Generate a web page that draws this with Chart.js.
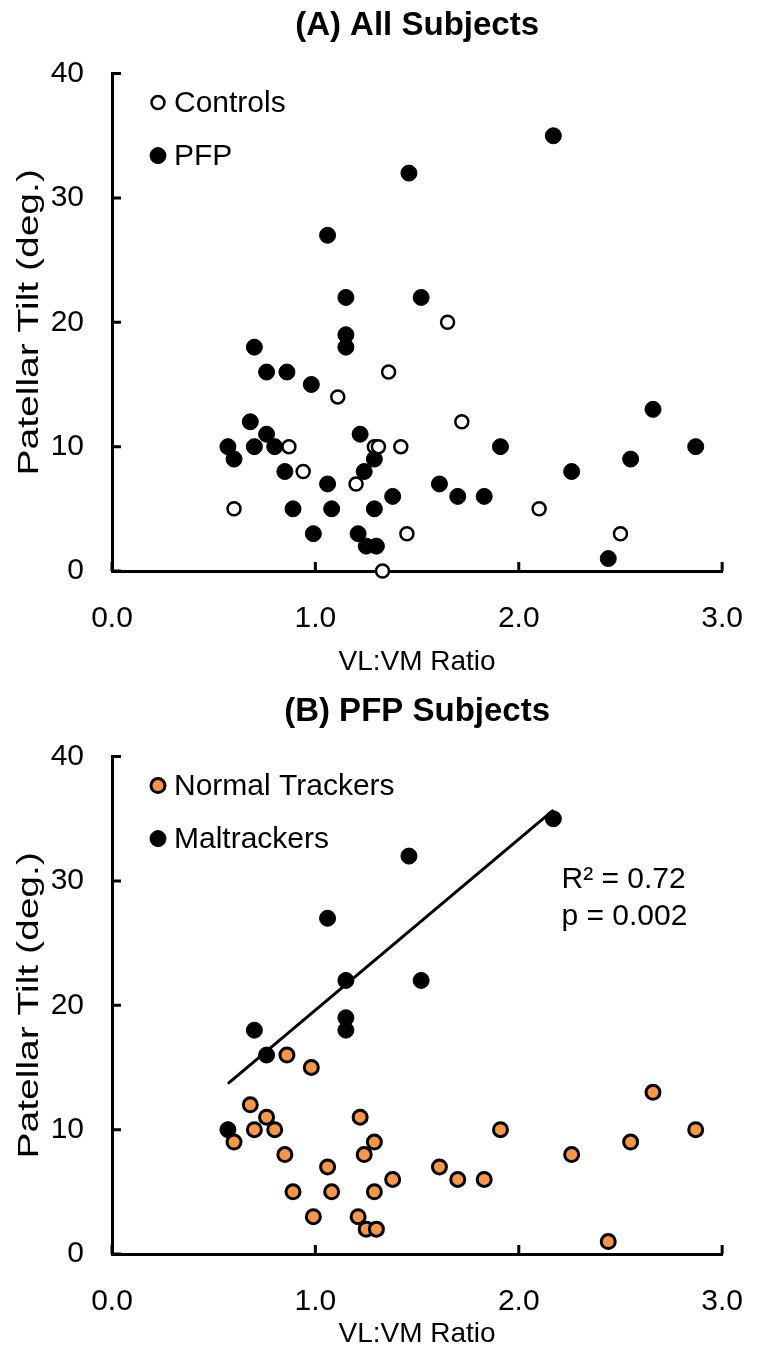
<!DOCTYPE html>
<html>
<head>
<meta charset="utf-8">
<title>Patellar tilt vs VL:VM ratio</title>
<script src="https://cdn.jsdelivr.net/npm/chart.js@4.4.0/dist/chart.umd.min.js"></script>
<style>
  html, body { margin: 0; padding: 0; background: #fff; overflow: hidden; }
  #wrap { position: relative; width: 773px; height: 1357px; }
  canvas { position: absolute; left: 0; }
</style>
</head>
<body>
<div id="wrap">
  <canvas id="chartA" width="773" height="685" style="top:0px"></canvas>
  <canvas id="chartB" width="773" height="672" style="top:685px"></canvas>
</div>
<script>
// values: x = VL:VM ratio, y = patellar tilt (deg.)
const controlsX = [0.60, 0.87, 0.94, 1.11, 1.20, 1.29, 1.31, 1.33, 1.36, 1.42, 1.45, 1.65, 1.72, 2.10, 2.50];
const controlsY = [5, 10, 8, 14, 7, 10, 10, 0, 16, 10, 3, 20, 12, 5, 3];

const pfpX = [0.57, 0.60, 0.68, 0.70, 0.70, 0.76, 0.76, 0.80, 0.85, 0.86, 0.89, 0.98, 0.99,
  1.06, 1.06, 1.08, 1.15, 1.15, 1.15, 1.21, 1.22, 1.24, 1.25, 1.29, 1.29, 1.30, 1.38,
  1.46, 1.52, 1.61, 1.70, 1.83, 1.91, 2.17, 2.26, 2.44, 2.55, 2.66, 2.87];
const pfpY = [10, 9, 12, 18, 10, 16, 11, 10, 8, 16, 5, 15, 3,
  27, 7, 5, 22, 19, 18, 3, 11, 8, 2, 9, 5, 2, 6,
  32, 22, 7, 6, 6, 10, 35, 8, 1, 9, 13, 10];

// panel B: PFP split into normal trackers and maltrackers
const normalX = [0.60, 0.68, 0.70, 0.76, 0.80, 0.85, 0.86, 0.89, 0.98, 0.99, 1.06, 1.08, 1.21,
  1.22, 1.24, 1.25, 1.29, 1.29, 1.30, 1.38, 1.61, 1.70, 1.83, 1.91, 2.26, 2.44, 2.55, 2.66, 2.87];
const normalY = [9, 12, 10, 11, 10, 8, 16, 5, 15, 3, 7, 5, 3,
  11, 8, 2, 9, 5, 2, 6, 7, 6, 6, 10, 8, 1, 9, 13, 10];
const maltrackX = [0.57, 0.70, 0.76, 1.06, 1.15, 1.15, 1.15, 1.46, 1.52, 2.17];
const maltrackY = [10, 18, 16, 27, 22, 19, 18, 32, 22, 35];

// regression line through the maltrackers (ends as drawn)
const fitX = [0.57, 2.17];
const fitY = [13.7, 35.7];
const fitNote = ['R\u00b2 = 0.72', 'p = 0.002'];

const xTicks = [0, 1, 2, 3];
const yTicks = [0, 10, 20, 30, 40];

const FONT = '"Liberation Sans", Arial, sans-serif';
Chart.defaults.font.family = FONT;
Chart.defaults.color = '#000';

const pts = (xs, ys) => xs.map((x, i) => ({ x: x, y: ys[i] }));

// excel style ticks that point into the plot
const inwardTicks = {
  id: 'inwardTicks',
  beforeDatasetsDraw(chart) {
    const { ctx, chartArea, scales } = chart;
    ctx.save();
    ctx.strokeStyle = '#000';
    ctx.lineWidth = 3;
    ctx.beginPath();
    scales.x.ticks.forEach(t => {
      const px = scales.x.getPixelForValue(t.value);
      ctx.moveTo(px, chartArea.bottom);
      ctx.lineTo(px, chartArea.bottom - 9);
    });
    scales.y.ticks.forEach(t => {
      const py = scales.y.getPixelForValue(t.value);
      ctx.moveTo(chartArea.left, py);
      ctx.lineTo(chartArea.left + 9, py);
    });
    ctx.stroke();
    ctx.restore();
  }
};

// legend sitting inside the top-left corner of the plot
const cornerLegend = {
  id: 'cornerLegend',
  afterDraw(chart, args, opts) {
    const { ctx, chartArea } = chart;
    ctx.save();
    ctx.font = '30px ' + FONT;
    ctx.textBaseline = 'middle';
    ctx.textAlign = 'left';
    let row = 0;
    chart.data.datasets.forEach(ds => {
      if (ds.noLegend) return;
      const cx = chartArea.left + opts.x;
      const cy = chartArea.top + opts.y + row * opts.gap;
      ctx.beginPath();
      ctx.arc(cx, cy, ds.pointRadius, 0, Math.PI * 2);
      ctx.fillStyle = ds.backgroundColor;
      ctx.fill();
      ctx.lineWidth = ds.borderWidth;
      ctx.strokeStyle = ds.borderColor;
      ctx.stroke();
      ctx.fillStyle = '#000';
      ctx.fillText(ds.label, cx + 16, cy + 1);
      row++;
    });
    ctx.restore();
  }
};

// the y axis title is stretched along its length in the original
const sideTitle = {
  id: 'sideTitle',
  afterDraw(chart, args, opts) {
    const { ctx, chartArea } = chart;
    ctx.save();
    ctx.translate(opts.x, (chartArea.top + chartArea.bottom) / 2);
    ctx.rotate(-Math.PI / 2);
    ctx.scale(opts.stretch, 1);
    ctx.font = '30px ' + FONT;
    ctx.textAlign = 'center';
    ctx.textBaseline = 'middle';
    ctx.fillStyle = '#000';
    ctx.fillText(opts.text, 0, 0);
    ctx.restore();
  }
};

// R2 / p text, placed at a data position
const noteText = {
  id: 'noteText',
  afterDraw(chart, args, opts) {
    if (!opts.lines) return;
    const { ctx, scales } = chart;
    ctx.save();
    ctx.font = '30px ' + FONT;
    ctx.textBaseline = 'middle';
    ctx.fillStyle = '#000';
    opts.lines.forEach((line, i) => {
      ctx.fillText(line, scales.x.getPixelForValue(opts.x), scales.y.getPixelForValue(opts.y[i]));
    });
    ctx.restore();
  }
};

function makeChart(id, title, titlePad, xHeight, datasets, note) {
  return new Chart(document.getElementById(id), {
    type: 'scatter',
    data: { datasets: datasets },
    plugins: [inwardTicks, cornerLegend, sideTitle, noteText],
    options: {
      responsive: false,
      animation: false,
      events: [],
      layout: { padding: { left: 0, right: 23, top: 0, bottom: 0 } },
      plugins: {
        legend: { display: false },
        tooltip: { enabled: false },
        title: {
          display: true,
          fullSize: false,
          text: title,
          font: { size: 33, weight: 'bold' },
          padding: titlePad
        },
        cornerLegend: { x: 46, y: 29, gap: 53 },
        sideTitle: { text: 'Patellar Tilt (deg.)', x: 30, stretch: 1.3 },
        noteText: note || {}
      },
      scales: {
        x: {
          type: 'linear',
          min: 0, max: 3,
          afterBuildTicks: s => { s.ticks = xTicks.map(v => ({ value: v })); },
          afterFit: s => { s.height = xHeight; },
          border: { color: '#000', width: 3 },
          grid: { drawOnChartArea: false, drawTicks: false },
          ticks: { font: { size: 30 }, padding: 30, callback: v => v.toFixed(1) },
          title: { display: true, text: 'VL:VM Ratio', font: { size: 28 }, padding: { top: 0, bottom: 6 } }
        },
        y: {
          type: 'linear',
          min: 0, max: 40,
          afterBuildTicks: s => { s.ticks = yTicks.map(v => ({ value: v })); },
          afterFit: s => { s.width = 112; },
          border: { color: '#000', width: 3 },
          grid: { drawOnChartArea: false, drawTicks: false },
          ticks: { font: { size: 30 }, padding: 28 }
        }
      }
    }
  });
}

makeChart('chartA', '(A) All Subjects', { top: 6, bottom: 28 }, 114, [
  { label: 'Controls', data: pts(controlsX, controlsY), pointRadius: 6.5, borderWidth: 2.5,
    backgroundColor: '#fff', borderColor: '#000', clip: false },
  { label: 'PFP', data: pts(pfpX, pfpY), pointRadius: 8, borderWidth: 1,
    backgroundColor: '#000', borderColor: '#000', clip: false }
]);

makeChart('chartB', '(B) PFP Subjects', { top: 7, bottom: 25 }, 103, [
  { label: 'Normal Trackers', data: pts(normalX, normalY), pointRadius: 7, borderWidth: 3,
    backgroundColor: '#F79646', borderColor: '#000', clip: false },
  { label: 'Maltrackers', data: pts(maltrackX, maltrackY), pointRadius: 8, borderWidth: 1,
    backgroundColor: '#000', borderColor: '#000', clip: false },
  { label: 'fit', noLegend: true, data: pts(fitX, fitY), showLine: true, pointRadius: 0,
    borderWidth: 3, borderColor: '#000', backgroundColor: '#000', clip: false }
], { lines: fitNote, x: 2.21, y: [30.1, 27.1] });
</script>
</body>
</html>
